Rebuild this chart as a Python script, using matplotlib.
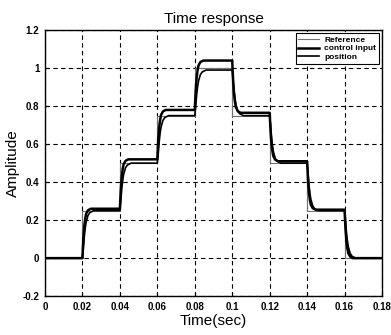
import matplotlib
matplotlib.use("Agg")
import matplotlib.pyplot as plt

plt.rcParams['font.family'] = ['Liberation Sans', 'DejaVu Sans']

# reference step signal
ref_t = [0, 0.02, 0.04, 0.06, 0.08, 0.10, 0.12, 0.14, 0.16, 0.18]
ref_y = [0, 0.25, 0.50, 0.75, 1.00, 0.75, 0.50, 0.25, 0.00, 0.00]

# control input
cu_t = [0, 0.020, 0.0205, 0.021, 0.0215, 0.022, 0.023, 0.0245,
        0.040, 0.0405, 0.041, 0.0415, 0.042, 0.043, 0.0445,
        0.060, 0.0605, 0.061, 0.0615, 0.062, 0.063, 0.0645,
        0.080, 0.0805, 0.081, 0.0815, 0.082, 0.083, 0.0845,
        0.100, 0.1005, 0.101, 0.1015, 0.102, 0.103, 0.1045,
        0.120, 0.1205, 0.121, 0.1215, 0.122, 0.123, 0.1245,
        0.140, 0.1405, 0.141, 0.1415, 0.142, 0.143, 0.1445,
        0.160, 0.1605, 0.161, 0.1615, 0.162, 0.163, 0.1645, 0.18]
cu_y = [0, 0, 0.104, 0.169, 0.208, 0.234, 0.252, 0.26,
        0.26, 0.364, 0.429, 0.468, 0.494, 0.512, 0.52,
        0.52, 0.624, 0.689, 0.728, 0.754, 0.772, 0.78,
        0.78, 0.884, 0.949, 0.988, 1.014, 1.032, 1.04,
        1.04, 0.93, 0.861, 0.82, 0.793, 0.773, 0.765,
        0.765, 0.663, 0.599, 0.561, 0.536, 0.518, 0.51,
        0.51, 0.408, 0.344, 0.306, 0.281, 0.263, 0.255,
        0.255, 0.153, 0.089, 0.051, 0.026, 0.008, 0, 0]

# position
pos_t = [0, 0.020, 0.0205, 0.021, 0.0215, 0.022, 0.023, 0.024, 0.026,
         0.040, 0.0405, 0.041, 0.0415, 0.042, 0.043, 0.044, 0.046,
         0.060, 0.0605, 0.061, 0.0615, 0.062, 0.063, 0.064, 0.066,
         0.080, 0.0805, 0.081, 0.0815, 0.082, 0.083, 0.084, 0.086,
         0.100, 0.1005, 0.101, 0.1015, 0.102, 0.103, 0.104, 0.106,
         0.120, 0.1205, 0.121, 0.1215, 0.122, 0.123, 0.124, 0.126,
         0.140, 0.1405, 0.141, 0.1415, 0.142, 0.143, 0.144, 0.146,
         0.160, 0.1605, 0.161, 0.1615, 0.162, 0.163, 0.164, 0.166, 0.18]
pos_y = [0, 0, 0.05, 0.1125, 0.1575, 0.19, 0.225, 0.24, 0.25,
         0.25, 0.30, 0.3625, 0.4075, 0.44, 0.475, 0.49, 0.50,
         0.50, 0.55, 0.6125, 0.6575, 0.69, 0.725, 0.74, 0.75,
         0.75, 0.798, 0.858, 0.901, 0.932, 0.966, 0.98, 0.99,
         0.99, 0.942, 0.882, 0.839, 0.808, 0.774, 0.76, 0.75,
         0.75, 0.70, 0.6375, 0.5925, 0.56, 0.525, 0.51, 0.50,
         0.50, 0.45, 0.3875, 0.3425, 0.31, 0.275, 0.26, 0.25,
         0.25, 0.20, 0.1375, 0.0925, 0.06, 0.025, 0.01, 0, 0]

xticks = [0, 0.02, 0.04, 0.06, 0.08, 0.10, 0.12, 0.14, 0.16, 0.18]
xlabels = ['0', '0.02', '0.04', '0.06', '0.08', '0.1', '0.12', '0.14', '0.16', '0.18']
yticks = [-0.2, 0, 0.2, 0.4, 0.6, 0.8, 1.0, 1.2]
ylabels = ['-0.2', '0', '0.2', '0.4', '0.6', '0.8', '1', '1.2']

fig = plt.figure(figsize=(3.91, 3.35), dpi=100)
ax = fig.add_axes([0.115, 0.116, 0.862, 0.794])

ax.step(ref_t, ref_y, where='post', color='0.45', lw=0.8, label='Reference')
ax.plot(cu_t, cu_y, color='black', lw=1.8, label='control input')
ax.plot(pos_t, pos_y, color='black', lw=1.2, label='position')

ax.set_xlim(0, 0.18)
ax.set_ylim(-0.2, 1.2)
ax.set_xticks(xticks)
ax.set_xticklabels(xlabels)
ax.set_yticks(yticks)
ax.set_yticklabels(ylabels)
ax.tick_params(direction='in', length=3, width=0.8, labelsize=7, pad=4)
for lab in ax.get_xticklabels() + ax.get_yticklabels():
    lab.set_fontweight('bold')
ax.grid(True, color='black', linestyle=(0, (4, 3)), linewidth=0.8)
for s in ax.spines.values():
    s.set_linewidth(1.0)

ax.set_title('Time response', fontsize=11, pad=5)
ax.set_xlabel('Time(sec)', fontsize=11, labelpad=2)
ax.set_ylabel('Amplitude', fontsize=11, labelpad=2)

leg = ax.legend(loc='upper right', fontsize=6, frameon=True, fancybox=False,
                edgecolor='black', framealpha=1, handlelength=2.5,
                borderaxespad=0.4, labelspacing=0.1, borderpad=0.3,
                handletextpad=0.6)
leg.get_frame().set_linewidth(0.8)
for t in leg.get_texts():
    t.set_fontweight('bold')

fig.savefig('out.png', dpi=100)
